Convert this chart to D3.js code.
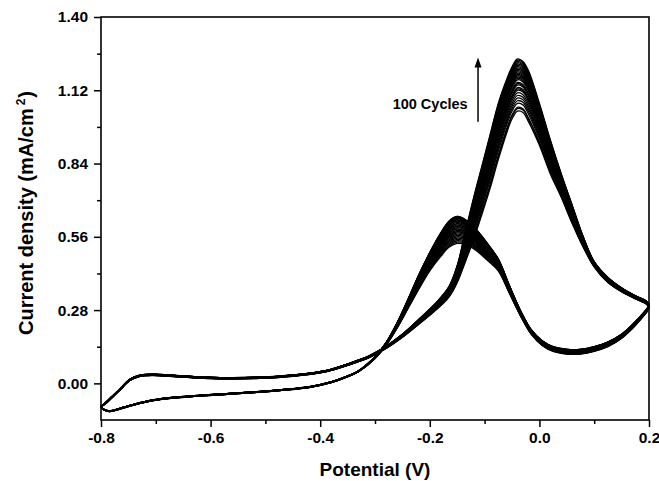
<!DOCTYPE html>
<html>
<head>
<meta charset="utf-8">
<script src="https://cdn.jsdelivr.net/npm/d3@7"></script>
<style>
    body { margin: 0; background: #fff; }
    text { font-family: "Liberation Sans", Arial, sans-serif; font-weight: bold; }
</style>
</head>
<body>
<div id="chart"></div>
<script>
// forward scan (-0.8 -> 0.2 V), first and last cycle, current density in mA/cm2
var forwardV = [-0.80, -0.79, -0.78, -0.765, -0.748, -0.73, -0.705, -0.675, -0.63, -0.57, -0.51, -0.45, -0.39, -0.345, -0.31, -0.28, -0.25, -0.22, -0.19, -0.165, -0.15, -0.135, -0.12, -0.105, -0.09, -0.075, -0.06, -0.05, -0.04, -0.03, -0.02, 0.0, 0.02, 0.04, 0.06, 0.08, 0.10, 0.125, 0.15, 0.175, 0.195, 0.2];
var forwardFirst = [-0.090, -0.075, -0.055, -0.025, 0.010, 0.026, 0.030, 0.027, 0.021, 0.017, 0.019, 0.027, 0.044, 0.072, 0.099, 0.133, 0.176, 0.226, 0.278, 0.330, 0.385, 0.465, 0.550, 0.645, 0.745, 0.855, 0.955, 1.010, 1.040, 1.035, 1.000, 0.910, 0.800, 0.710, 0.610, 0.520, 0.445, 0.385, 0.350, 0.323, 0.303, 0.290];
var forwardLast = [-0.088, -0.070, -0.050, -0.020, 0.015, 0.031, 0.035, 0.032, 0.026, 0.022, 0.024, 0.032, 0.049, 0.078, 0.106, 0.142, 0.188, 0.245, 0.305, 0.370, 0.450, 0.580, 0.710, 0.830, 0.950, 1.070, 1.160, 1.210, 1.240, 1.230, 1.195, 1.070, 0.930, 0.800, 0.680, 0.560, 0.465, 0.405, 0.365, 0.335, 0.315, 0.300];

// reverse scan (0.2 -> -0.8 V)
var reverseV = [0.195, 0.185, 0.17, 0.15, 0.125, 0.10, 0.075, 0.05, 0.025, 0.005, -0.015, -0.035, -0.055, -0.075, -0.095, -0.115, -0.135, -0.15, -0.165, -0.18, -0.2, -0.22, -0.24, -0.26, -0.28, -0.30, -0.33, -0.36, -0.38, -0.42, -0.47, -0.51, -0.57, -0.63, -0.68, -0.71, -0.74, -0.765, -0.785, -0.795, -0.8];
var reverseFirst = [0.270, 0.245, 0.210, 0.172, 0.140, 0.122, 0.112, 0.112, 0.122, 0.145, 0.188, 0.260, 0.345, 0.430, 0.470, 0.507, 0.530, 0.535, 0.520, 0.485, 0.430, 0.360, 0.285, 0.210, 0.145, 0.095, 0.045, 0.017, 0.003, -0.016, -0.027, -0.034, -0.042, -0.050, -0.059, -0.068, -0.083, -0.098, -0.108, -0.101, -0.090];
var reverseLast = [0.282, 0.258, 0.225, 0.188, 0.158, 0.140, 0.130, 0.130, 0.140, 0.163, 0.205, 0.280, 0.375, 0.475, 0.535, 0.587, 0.625, 0.638, 0.620, 0.575, 0.500, 0.415, 0.320, 0.230, 0.155, 0.102, 0.048, 0.020, 0.006, -0.013, -0.024, -0.031, -0.039, -0.047, -0.056, -0.065, -0.080, -0.095, -0.105, -0.099, -0.088];

// peak currents of the visible traces (forward peak, reverse peak)
var forwardPeaks = [1.04, 1.05, 1.055, 1.07, 1.08, 1.09, 1.10, 1.11, 1.12, 1.125, 1.13, 1.14, 1.145, 1.15, 1.16, 1.165, 1.17, 1.175, 1.18, 1.185, 1.19, 1.195, 1.20, 1.205, 1.21, 1.215, 1.22, 1.225, 1.23, 1.235, 1.24];
var reversePeaks = [0.535, 0.54, 0.545, 0.55, 0.555, 0.56, 0.565, 0.57, 0.575, 0.58, 0.58, 0.585, 0.59, 0.59, 0.595, 0.60, 0.60, 0.605, 0.61, 0.61, 0.615, 0.62, 0.62, 0.625, 0.625, 0.63, 0.63, 0.635, 0.635, 0.638, 0.638];

var xMajor = [-0.8, -0.6, -0.4, -0.2, 0.0, 0.2];
var xMinor = [-0.7, -0.5, -0.3, -0.1, 0.1];
var yMajor = [0.00, 0.28, 0.56, 0.84, 1.12, 1.40];
var yMinor = [0.14, 0.42, 0.70, 0.98, 1.26];

(function() {
    var width = 659,
        height = 481;

    var svg = d3.select("#chart")
        .append("svg")
        .attr("width", width)
        .attr("height", height);

    var x = d3.scaleLinear().domain([-0.8, 0.2]).range([101, 649]);
    var y = d3.scaleLinear().domain([-0.14, 1.40]).range([420, 17]);

    var line = d3.line()
        .x(function(d) { return x(d[0]); })
        .y(function(d) { return y(d[1]); })
        .curve(d3.curveCatmullRom.alpha(0.5));

    var fLo = d3.max(forwardFirst), fHi = d3.max(forwardLast);
    var rLo = d3.max(reverseFirst), rHi = d3.max(reverseLast);

    var cycles = forwardPeaks.map(function(p, i) {
        var wf = (p - fLo) / (fHi - fLo);
        var wr = (reversePeaks[i] - rLo) / (rHi - rLo);
        var fwd = forwardV.map(function(v, j) {
            return [v, forwardFirst[j] + wf * (forwardLast[j] - forwardFirst[j])];
        });
        var rev = reverseV.map(function(v, j) {
            return [v, reverseFirst[j] + wr * (reverseLast[j] - reverseFirst[j])];
        });
        return fwd.concat(rev);
    });

    svg.append("g")
        .selectAll("path")
        .data(cycles)
        .enter()
        .append("path")
        .attr("d", line)
        .style("fill", "none")
        .style("stroke", "#000")
        .style("stroke-width", 1.3);

    // axes
    svg.append("g")
        .attr("transform", "translate(0,420)")
        .call(d3.axisBottom(x).tickValues(xMajor).tickSize(7).tickSizeOuter(0).tickPadding(5)
            .tickFormat(function(d) { return d.toFixed(1); }));
    svg.append("g")
        .attr("transform", "translate(0,420)")
        .call(d3.axisBottom(x).tickValues(xMinor).tickSize(4).tickSizeOuter(0).tickFormat(""));

    svg.append("g")
        .attr("transform", "translate(101,0)")
        .call(d3.axisLeft(y).tickValues(yMajor).tickSize(7).tickSizeOuter(0).tickPadding(6)
            .tickFormat(function(d) { return d.toFixed(2); }));
    svg.append("g")
        .attr("transform", "translate(101,0)")
        .call(d3.axisLeft(y).tickValues(yMinor).tickSize(4).tickSizeOuter(0).tickFormat(""));

    svg.selectAll(".tick line").style("stroke", "#000").style("stroke-width", 1.5);
    svg.selectAll(".domain").style("stroke", "none");
    svg.selectAll(".tick text")
        .style("font-family", "'Liberation Sans', Arial, sans-serif")
        .style("font-weight", "bold")
        .style("font-size", "15.5px")
        .style("fill", "#000");

    svg.append("rect")
        .attr("x", x(-0.8))
        .attr("y", y(1.40))
        .attr("width", x(0.2) - x(-0.8))
        .attr("height", y(-0.14) - y(1.40))
        .style("fill", "none")
        .style("stroke", "#000")
        .style("stroke-width", 1.6);

    // axis titles
    svg.append("text")
        .attr("x", (x(-0.8) + x(0.2)) / 2)
        .attr("y", 476)
        .style("text-anchor", "middle")
        .style("font-size", "19px")
        .text("Potential (V)");

    var yTitle = svg.append("text")
        .attr("transform", "translate(33,213) rotate(-90)")
        .style("text-anchor", "middle")
        .style("font-size", "20px");
    yTitle.append("tspan").text("Current density (mA/cm");
    yTitle.append("tspan").attr("dy", -8).attr("dx", 3).style("font-size", "12px").text("2");
    yTitle.append("tspan").attr("dy", 8).attr("dx", 1).text(")");

    // annotation
    svg.append("text")
        .attr("x", x(-0.131))
        .attr("y", y(1.05))
        .style("text-anchor", "end")
        .style("font-size", "14.5px")
        .text("100 Cycles");

    svg.append("line")
        .attr("x1", x(-0.112)).attr("x2", x(-0.112))
        .attr("y1", y(1.0)).attr("y2", y(1.215))
        .style("stroke", "#000")
        .style("stroke-width", 1.5);
    svg.append("path")
        .attr("d", "M" + x(-0.112) + "," + y(1.245) +
            "L" + (x(-0.112) - 3.5) + "," + (y(1.245) + 10) +
            "L" + (x(-0.112) + 3.5) + "," + (y(1.245) + 10) + "Z")
        .style("fill", "#000");
})();
</script>
</body>
</html>
